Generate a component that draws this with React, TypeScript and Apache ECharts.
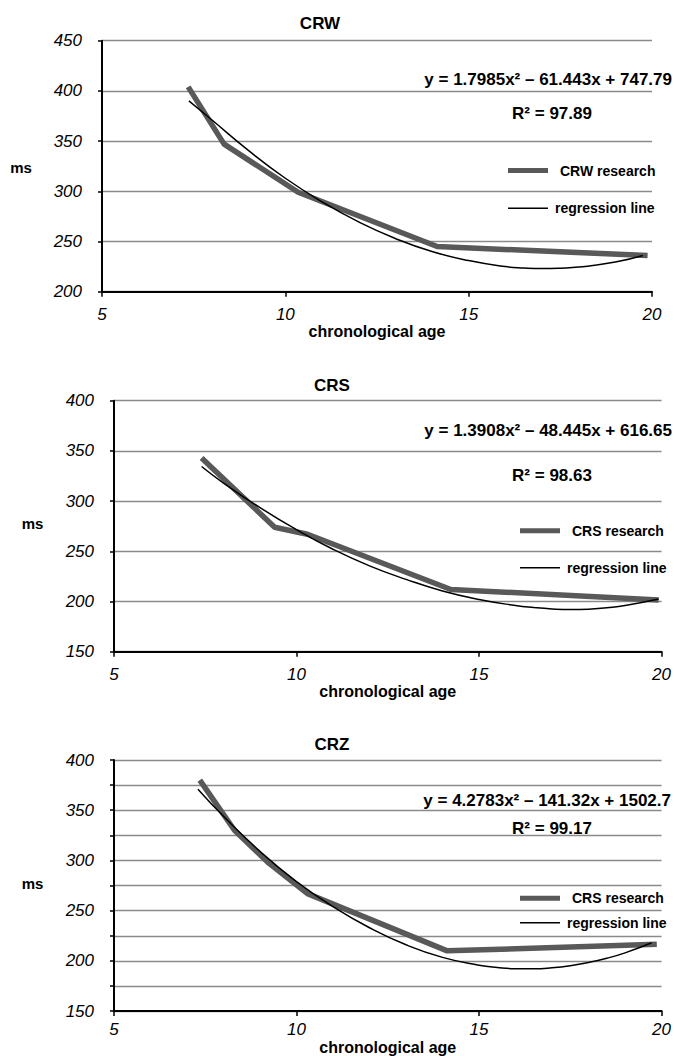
import React, { useEffect, useRef } from "react";
import * as echarts from "echarts";

const FONT = "'Liberation Sans', Arial, sans-serif";

const titles = ["CRW", "CRS", "CRZ"];
const equations = [
  "y = 1.7985x² – 61.443x + 747.79",
  "y = 1.3908x² – 48.445x + 616.65",
  "y = 4.2783x² – 141.32x + 1502.7",
];
const rSquared = ["R² = 97.89", "R² = 98.63", "R² = 99.17"];
const researchNames = ["CRW research", "CRS research", "CRS research"];
const fitName = "regression line";
const xAxisName = "chronological age";
const yAxisName = "ms";

const xTicks = [5, 10, 15, 20];
const yRanges = [
  [200, 450, 50],
  [150, 400, 50],
  [150, 400, 25],
];

const crwAges = [7.35, 8.33, 10.35, 14.14, 19.88];
const crwValues = [404, 347, 299, 245, 236];
const crwFitAges = [7.37, 8, 9, 10, 11, 12, 13, 14, 15, 16, 16.5, 17, 17.5, 18, 19, 19.75];
const crwFitValues = [390, 371, 340.5, 313, 289.5, 269.5, 253, 240, 231, 225, 223.6, 223, 223.4, 224.5, 229.5, 236];

const crsAges = [7.4, 9.4, 10.3, 14.23, 19.92];
const crsValues = [343, 274, 267, 212, 201.5];
const crsFitAges = [7.4, 8, 9, 10, 11, 12, 13, 14, 15, 16, 16.5, 17, 17.5, 18, 18.5, 19, 19.92];
const crsFitValues = [334.5, 318, 293.5, 271.5, 252, 235.5, 222, 210.5, 202, 196, 194, 192.6, 192, 192.3, 193.8, 196, 202.5];

const crzAges = [7.35, 8.3, 9.25, 10.3, 14.13, 19.87];
const crzValues = [380, 330, 297, 267, 210, 216.5];
const crzFitAges = [7.3, 8, 9, 10, 11, 12, 13, 14, 15, 15.5, 16, 16.5, 17, 17.5, 18, 18.5, 19, 19.73];
const crzFitValues = [371, 344, 309, 279, 254, 233, 216, 203.5, 195.7, 193.4, 192.2, 192.1, 193.1, 195.2, 198.4, 202.6, 208, 218];

const researchSets = [
  [crwAges, crwValues],
  [crsAges, crsValues],
  [crzAges, crzValues],
];
const fitSets = [
  [crwFitAges, crwFitValues],
  [crsFitAges, crsFitValues],
  [crzFitAges, crzFitValues],
];

const pairs = (xs: number[], ys: number[]) => xs.map((x, i) => [x, ys[i]]);

// layout (pixels)
const grids = [
  { left: 102, top: 40.7, width: 550, height: 251 },
  { left: 114, top: 400.7, width: 549, height: 251 },
  { left: 114, top: 760, width: 549, height: 251.7 },
];
const xLabelMargins = [14, 14, 10];
const xNameGaps = [27, 27, 27];
const titlePos = [
  [320, 23],
  [332, 385],
  [332, 744],
];
const eqPos = [
  [672, 79],
  [672, 430],
  [671, 800],
];
const r2Pos = [
  [552, 113],
  [552, 475],
  [552, 828],
];
const msPos = [
  [21, 167],
  [32.5, 523],
  [32.5, 883],
];
const legendPos = [
  [508, 170.5, 208.3],
  [520, 530.7, 567.7],
  [520, 898.3, 922.7],
];

const GRAY = "#595959";

export default function App() {
  const ref = useRef<HTMLDivElement>(null);

  useEffect(() => {
    if (!ref.current) return;
    const chart = echarts.init(ref.current, undefined, { renderer: "svg" });

    const xAxis = grids.map((_, i) => ({
      type: "value",
      gridIndex: i,
      min: xTicks[0],
      max: xTicks[xTicks.length - 1],
      interval: 5,
      axisLine: { show: true, lineStyle: { color: "#000", width: 2 } },
      axisTick: { show: true, length: 5, lineStyle: { color: "#000", width: 1.5 } },
      axisLabel: {
        fontFamily: FONT,
        fontStyle: "italic",
        fontSize: 17,
        color: "#000",
        margin: xLabelMargins[i],
      },
      splitLine: { show: false },
      name: xAxisName,
      nameLocation: "middle",
      nameGap: xNameGaps[i],
      nameTextStyle: { fontFamily: FONT, fontWeight: "bold", fontSize: 16, color: "#000" },
    }));

    const yAxis = grids.map((_, i) => ({
      type: "value",
      gridIndex: i,
      min: yRanges[i][0],
      max: yRanges[i][1],
      interval: yRanges[i][2],
      axisLine: { show: true, lineStyle: { color: "#000", width: 2 } },
      axisTick: { show: true, length: 4, lineStyle: { color: "#000", width: 1.5 } },
      axisLabel: {
        fontFamily: FONT,
        fontStyle: "italic",
        fontSize: 17,
        color: "#000",
        margin: 20,
        formatter: (v: number) => (v % 50 === 0 ? String(v) : ""),
      },
      splitLine: { show: true, lineStyle: { color: "#8a8a8a", width: 1.3 } },
    }));

    const series: any[] = [];
    grids.forEach((_, i) => {
      series.push({
        type: "line",
        name: researchNames[i],
        xAxisIndex: i,
        yAxisIndex: i,
        data: pairs(researchSets[i][0], researchSets[i][1]),
        symbol: "none",
        lineStyle: { color: GRAY, width: 5.5 },
        itemStyle: { color: GRAY },
        z: 2,
      });
      series.push({
        type: "line",
        name: fitName,
        xAxisIndex: i,
        yAxisIndex: i,
        data: pairs(fitSets[i][0], fitSets[i][1]),
        symbol: "none",
        smooth: true,
        lineStyle: { color: "#000", width: 1.5 },
        itemStyle: { color: "#000" },
        z: 3,
      });
    });

    const legendText = (pad: number) => ({
      fontFamily: FONT,
      fontWeight: "bold",
      fontSize: 14,
      lineHeight: 16,
      color: "#000",
      padding: [0, 0, 0, pad],
    });

    const legend: any[] = [];
    legendPos.forEach(([lx, y1, y2], i) => {
      legend.push({
        data: [researchNames[i]],
        left: lx,
        top: y1 - 8,
        padding: 0,
        icon: "rect",
        itemWidth: 40,
        itemHeight: 5,
        selectedMode: false,
        textStyle: legendText(7),
      });
      legend.push({
        data: [fitName],
        left: lx,
        top: y2 - 8,
        padding: 0,
        icon: "rect",
        itemWidth: 40,
        itemHeight: 1.5,
        selectedMode: false,
        textStyle: legendText(2),
      });
    });

    const txt = (x: number, y: number, text: string, size: number, align: string) => ({
      type: "text",
      x,
      y,
      style: {
        text,
        fontFamily: FONT,
        fontWeight: "bold",
        fontSize: size,
        fill: "#000",
        textAlign: align,
        textVerticalAlign: "middle",
      },
    });

    const graphic: any[] = [];
    grids.forEach((_, i) => {
      graphic.push(txt(titlePos[i][0], titlePos[i][1], titles[i], 17, "center"));
      graphic.push(txt(eqPos[i][0], eqPos[i][1], equations[i], 17, "right"));
      graphic.push(txt(r2Pos[i][0], r2Pos[i][1], rSquared[i], 17, "center"));
      graphic.push(txt(msPos[i][0], msPos[i][1], yAxisName, 15, "center"));
    });

    chart.setOption({
      animation: false,
      backgroundColor: "#fff",
      grid: grids.map((g) => ({ ...g, containLabel: false })),
      xAxis,
      yAxis,
      series,
      legend,
      graphic,
    });

    return () => chart.dispose();
  }, []);

  return (
    <div
      ref={ref}
      style={{ position: "absolute", left: 0, top: 0, width: 674, height: 1056, background: "#fff" }}
    />
  );
}
